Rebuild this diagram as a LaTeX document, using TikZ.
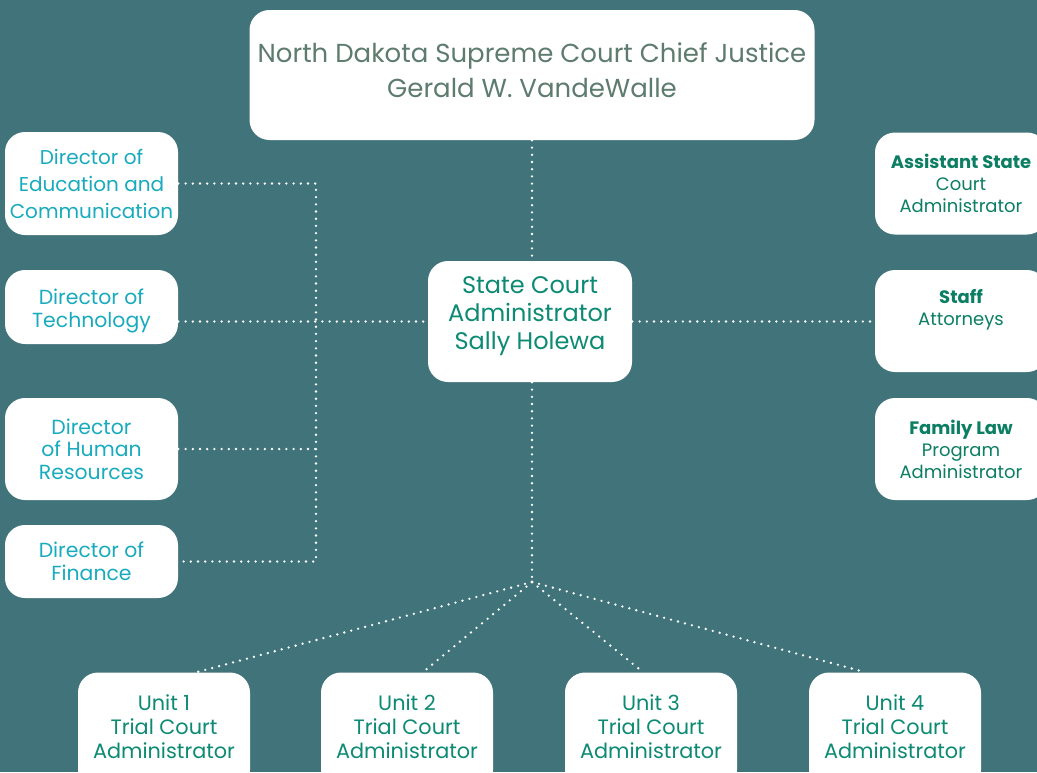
\documentclass[tikz,border=0pt]{standalone}
\usepackage{fontspec}
\setmainfont{Poppins}
\usetikzlibrary{positioning}
\definecolor{bgteal}{HTML}{41737A}
\definecolor{judgegray}{HTML}{5E7B6F}
\definecolor{dircyan}{HTML}{18ABBE}
\definecolor{admteal}{HTML}{0C8A73}
\definecolor{staffgreen}{HTML}{0B7E63}

\begin{document}
\begin{tikzpicture}[%
  x=0.5pt, y=-0.5pt,
  box/.style={fill=white, rounded corners=10pt, align=center, inner sep=0pt},
  dirbox/.style={box, text=dircyan, minimum width=86.5pt,
    font=\fontsize{10.2}{11.3}\selectfont},
  rightbox/.style={box, text=staffgreen, minimum width=86pt, minimum height=51pt,
    font=\fontsize{9}{11}\selectfont},
  unitbox/.style={box, text=admteal, minimum width=86pt, minimum height=58.5pt,
    text depth=4.5pt, font=\fontsize{10.4}{12}\selectfont},
  link/.style={white, line width=1.3pt, dash pattern=on 0pt off 3.6pt, line cap=round},
]

  \path[use as bounding box, clip] (0,0) rectangle (1037,772);
  \fill[bgteal] (0,0) rectangle (1037,772);

  \node[box, text=judgegray, minimum width=282.5pt, minimum height=65pt, text depth=5pt,
    font=\fontsize{13}{17.5}\selectfont] (chief) at (532,75)
    {North Dakota Supreme Court Chief Justice\\Gerald W. VandeWalle};

  \node[box, text=admteal, minimum width=102pt, minimum height=60.5pt, text depth=8pt,
    font=\fontsize{12}{14}\selectfont] (sca) at (530,321.5)
    {State Court\\Administrator\\Sally Holewa};

  \node[dirbox, minimum height=51.5pt, font=\fontsize{10}{13.5}\selectfont] (edu) at (91.5,183.5)
    {Director of\\Education and\\Communication};
  \node[dirbox, minimum height=37pt, text height=23pt] (tech) at (91.5,307)
    {Director of\\Technology};
  \node[dirbox, minimum height=51pt] (hr) at (91.5,449)
    {Director\\of Human\\Resources};
  \node[dirbox, minimum height=36.5pt] (fin) at (91.5,561.5)
    {Director of\\Finance};

  \node[rightbox] (asst) at (961,183.5)
    {{\bfseries Assistant State}\\Court\\Administrator};
  \node[rightbox, text depth=14pt] (staff) at (961,321)
    {{\bfseries Staff}\\Attorneys};
  \node[rightbox] (family) at (961,449)
    {{\bfseries Family Law}\\Program\\Administrator};

  \node[unitbox] (unit1) at (164,731) {Unit 1\\Trial Court\\Administrator};
  \node[unitbox] (unit2) at (407,731) {Unit 2\\Trial Court\\Administrator};
  \node[unitbox] (unit3) at (651,731) {Unit 3\\Trial Court\\Administrator};
  \node[unitbox] (unit4) at (895,731) {Unit 4\\Trial Court\\Administrator};

  \coordinate (spine) at (316,0);
  \coordinate (hub) at (532,582);

  \draw[link] (chief.south) -- (chief.south |- sca.north);
  \draw[link] (edu.east) -| (fin.east -| spine) -- (fin.east);
  \draw[link] (hr.east) -- (hr.east -| spine);
  \draw[link] (tech.east |- sca.west) -- (sca.west);
  \draw[link] (sca.east) -- (sca.east -| staff.west);
  \draw[link] (sca.south -| hub) -- (hub);
  \draw[link] (hub) -- ([xshift=16.5pt]unit1.north);
  \draw[link] (hub) -- ([xshift=8pt]unit2.north);
  \draw[link] (hub) -- ([xshift=-4pt]unit3.north);
  \draw[link] (hub) -- ([xshift=-15pt]unit4.north);

\end{tikzpicture}
\end{document}
